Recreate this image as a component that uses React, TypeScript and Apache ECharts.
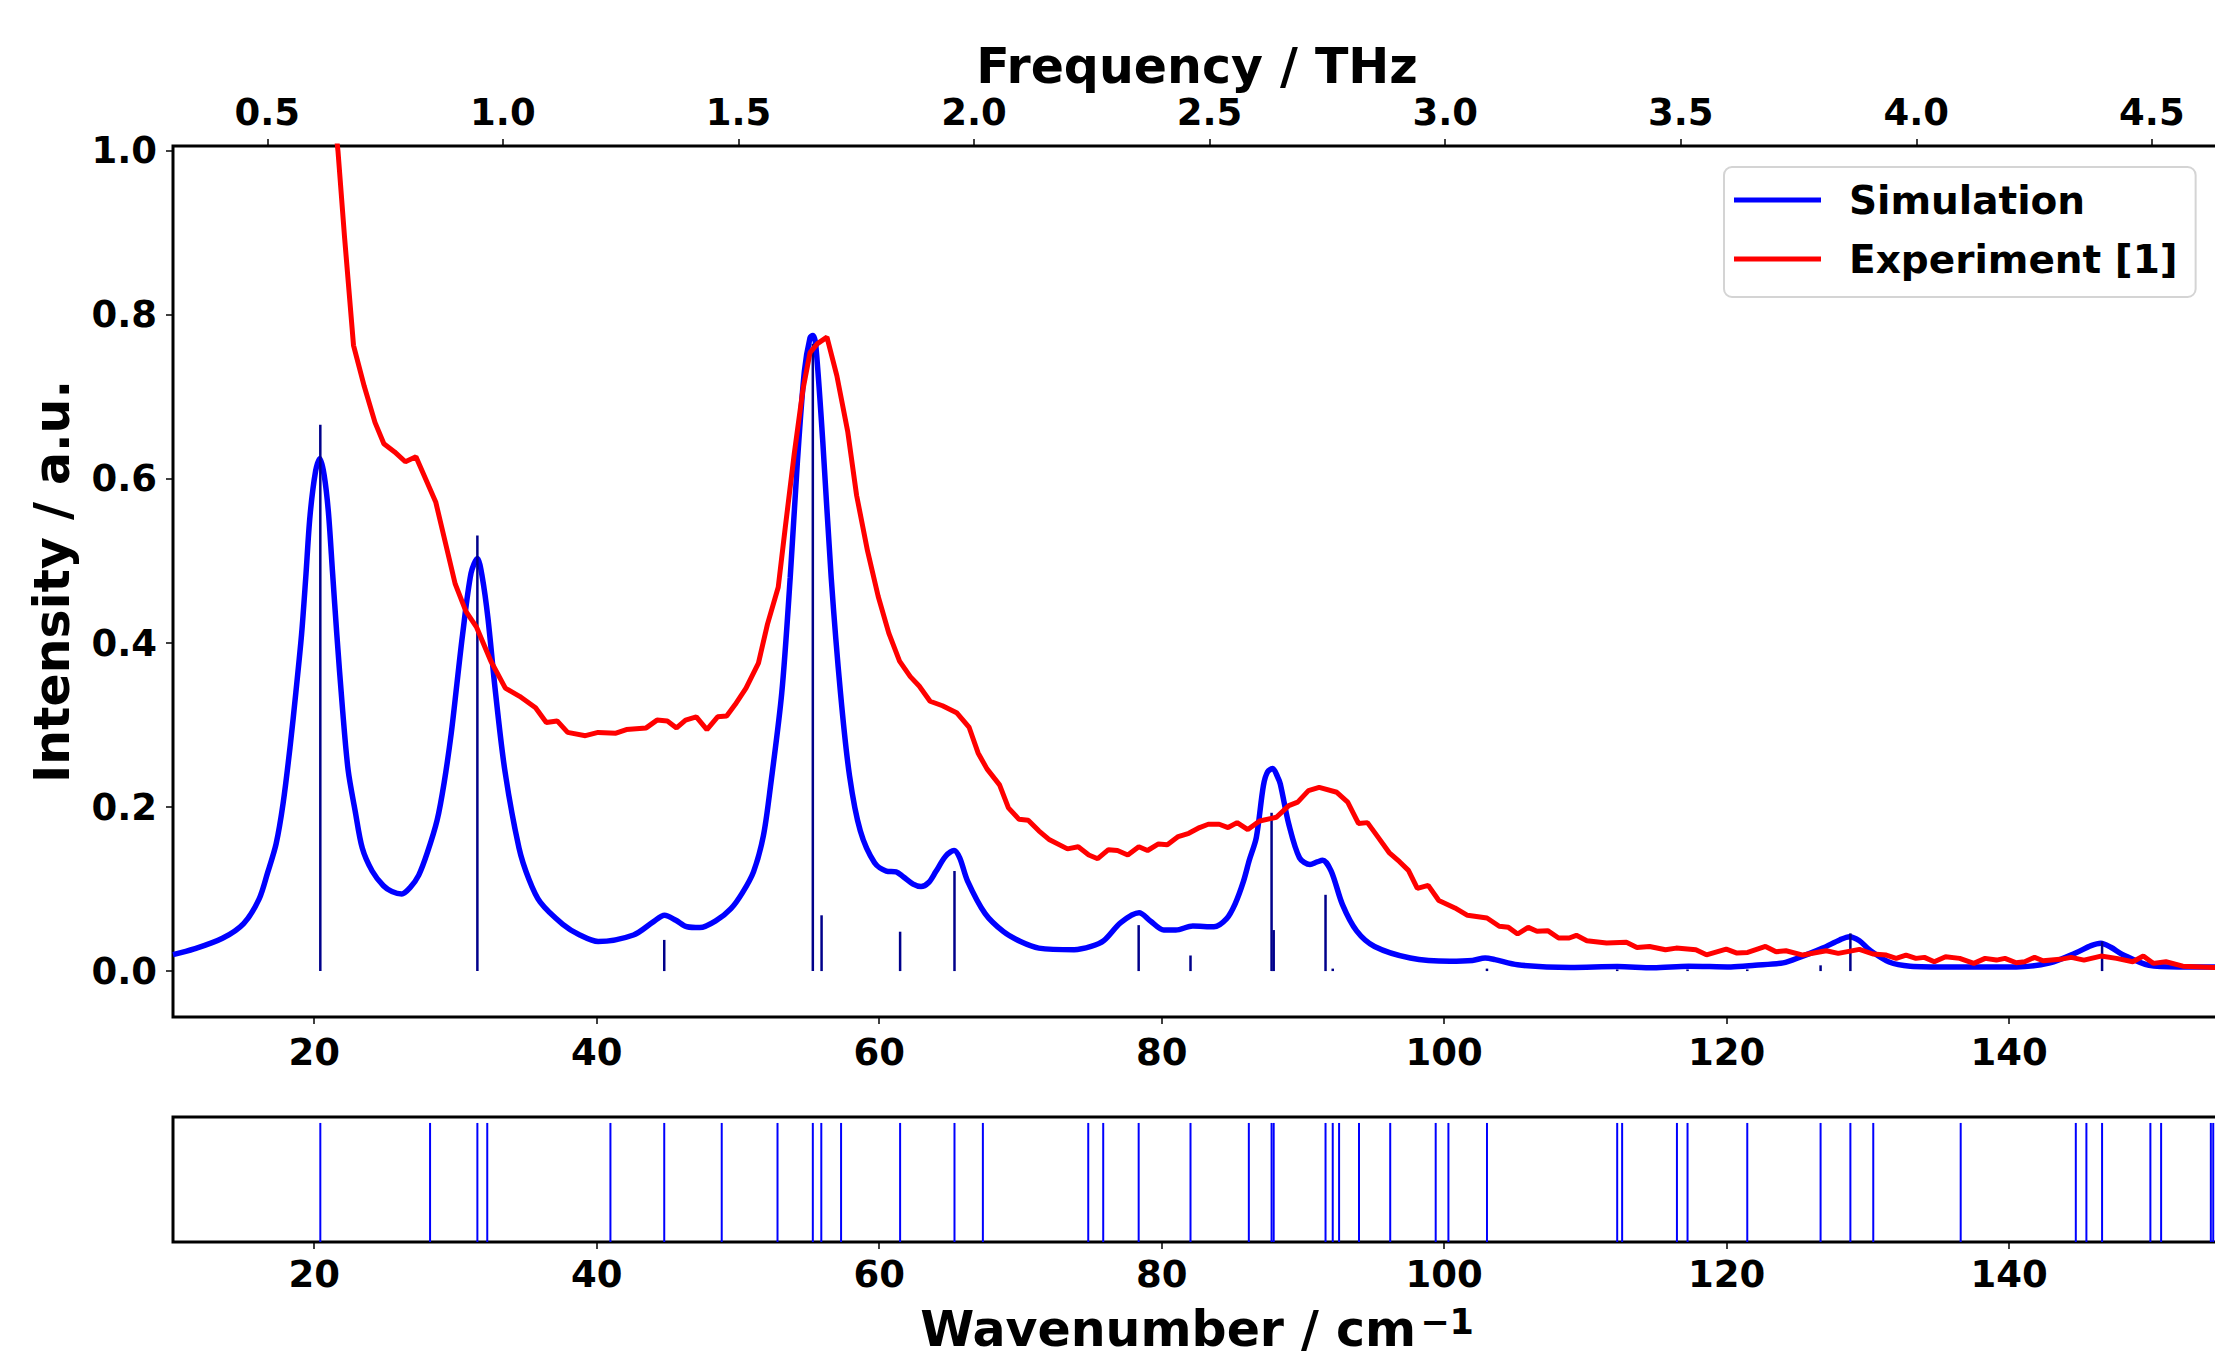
import React, { useEffect, useRef } from "react";
import * as echarts from "echarts";

const THZ_PER_CM = 1 / 33.35641;
const WAVENUMBER_MIN = 10;
const WAVENUMBER_MAX = 155;

const wavenumberTicks = [20, 40, 60, 80, 100, 120, 140];
const frequencyTicks = [0.5, 1.0, 1.5, 2.0, 2.5, 3.0, 3.5, 4.0, 4.5];
const intensityTicks = [0.0, 0.2, 0.4, 0.6, 0.8, 1.0];

const simulationWavenumber = [
  10.0, 11.5, 13.5, 15.0, 16.1, 16.7, 17.3, 17.8, 18.3, 18.7, 19.1, 19.4, 19.7, 20.1, 20.4, 20.7, 21.0, 21.3,
  21.6, 22.0, 22.4, 22.9, 23.4, 24.1, 24.9, 25.5, 26.2, 26.8, 27.4, 28.0, 28.7, 29.2, 29.7, 30.1, 30.5, 31.1,
  31.55, 31.9, 32.3, 32.8, 33.5, 34.5, 35.2, 36.0, 37.6, 38.8, 40.1, 42.6, 44.0, 44.8, 45.6, 46.4, 47.3, 48.5,
  49.5, 50.3, 51.1, 51.8, 52.3, 53.1, 53.7, 54.2, 54.7, 55.1, 55.3, 55.5, 56.0, 56.6, 57.26, 57.9, 58.66,
  59.67, 60.5, 61.2, 61.7, 62.4, 62.96, 63.5, 64.0, 64.7, 65.3, 65.7, 66.25, 67.5, 68.8, 70.0, 71.3, 73.8,
  75.0, 75.9, 77.1, 78.4, 79.2, 80.15, 81.0, 82.2, 83.7, 84.6, 85.2, 85.8, 86.2, 86.7, 87.2, 87.5, 87.86,
  88.2, 88.4, 89.0, 89.76, 90.5, 91.0, 91.4, 92.0, 92.8, 93.8, 95.07, 97.6, 100.4, 102.0, 102.9, 103.6,
  105.2, 108.95, 112.27, 114.8, 117.3, 120.3, 122.0, 124.0, 125.2, 126.8, 128.0, 128.7, 129.4, 130.1, 131.5,
  133.0, 135.8, 140.5, 142.9, 144.7, 145.8, 146.5, 147.2, 148.05, 149.9, 152.0, 155.0,
];
const simulationIntensity = [
  0.020, 0.027, 0.040, 0.058, 0.088, 0.120, 0.155, 0.205, 0.275, 0.34, 0.41, 0.48, 0.555, 0.61, 0.625, 0.605,
  0.56, 0.485, 0.41, 0.32, 0.245, 0.195, 0.150, 0.122, 0.104, 0.097, 0.094, 0.102, 0.117, 0.144, 0.184, 0.23,
  0.29, 0.35, 0.41, 0.485, 0.503, 0.48, 0.43, 0.345, 0.244, 0.150, 0.112, 0.084, 0.057, 0.044, 0.036, 0.044,
  0.060, 0.068, 0.062, 0.054, 0.053, 0.062, 0.076, 0.095, 0.121, 0.165, 0.225, 0.339, 0.48, 0.619, 0.731,
  0.772, 0.775, 0.765, 0.647, 0.48, 0.339, 0.238, 0.171, 0.132, 0.122, 0.121, 0.115, 0.106, 0.103, 0.108,
  0.121, 0.140, 0.147, 0.138, 0.110, 0.070, 0.048, 0.036, 0.028, 0.026, 0.030, 0.037, 0.059, 0.071, 0.061,
  0.050, 0.050, 0.055, 0.054, 0.064, 0.082, 0.11, 0.135, 0.163, 0.226, 0.243, 0.247, 0.237, 0.228, 0.179,
  0.138, 0.130, 0.133, 0.135, 0.122, 0.081, 0.049, 0.030, 0.016, 0.012, 0.013, 0.016, 0.014, 0.0076, 0.0045,
  0.0055, 0.004, 0.006, 0.005, 0.007, 0.010, 0.017, 0.028, 0.038, 0.042, 0.037, 0.026, 0.011, 0.006, 0.005,
  0.005, 0.010, 0.022, 0.031, 0.034, 0.029, 0.020, 0.007, 0.005, 0.005,
];

const experimentWavenumber = [
  21.5, 21.68, 22.15, 22.78, 23.54, 24.3, 24.93, 25.69, 26.45, 27.2, 28.6, 29.98, 30.74, 31.5, 32.5, 33.53,
  34.54, 35.67, 36.43, 37.2, 37.94, 39.2, 40.1, 41.36, 42.1, 43.5, 44.27, 45.0, 45.65, 46.29, 47.05, 47.8,
  48.56, 49.2, 49.8, 50.57, 51.45, 52.09, 52.85, 53.35, 53.98, 54.6, 55.1, 55.63, 56.3, 57.0, 57.77, 58.4,
  59.17, 59.93, 60.68, 61.44, 62.2, 62.83, 63.6, 64.48, 65.48, 66.37, 67.0, 67.63, 68.52, 69.15, 69.9, 70.55,
  71.3, 72.06, 73.33, 74.09, 74.84, 75.47, 76.23, 76.87, 77.6, 78.38, 79.0, 79.77, 80.4, 81.17, 81.92, 82.68,
  83.3, 84.07, 84.7, 85.34, 86.1, 86.93, 88.12, 89.0, 89.63, 90.39, 91.15, 92.4, 93.17, 93.93, 94.57, 95.33,
  96.1, 96.84, 97.47, 98.1, 98.87, 99.62, 100.76, 101.65, 103.03, 103.9, 104.55, 105.2, 105.95, 106.57,
  107.33, 108.1, 108.85, 109.36, 110.1, 111.5, 112.9, 113.65, 114.54, 115.67, 116.43, 117.82, 118.57, 119.97,
  120.73, 121.49, 122.75, 123.5, 124.2, 125.4, 127.05, 127.9, 129.4, 130.35, 131.3, 132.0, 132.7, 133.4,
  134.0, 134.7, 135.5, 136.5, 137.5, 138.3, 139.1, 139.7, 140.5, 141.1, 141.8, 142.4, 143.6, 144.4, 145.3,
  146.5, 147.6, 148.75, 149.5, 150.2, 151.1, 152.3, 154.5, 155.0,
];
const experimentIntensity = [
  1.03, 1.0, 0.894, 0.763, 0.713, 0.669, 0.643, 0.633, 0.621, 0.627, 0.572, 0.472, 0.4385, 0.419, 0.378, 0.345,
  0.335, 0.321, 0.303, 0.305, 0.291, 0.287, 0.291, 0.290, 0.2945, 0.2965, 0.306, 0.305, 0.2965, 0.306, 0.310,
  0.2945, 0.310, 0.311, 0.325, 0.345, 0.3755, 0.423, 0.468, 0.541, 0.630, 0.709, 0.754, 0.765, 0.773, 0.726,
  0.658, 0.58, 0.5126, 0.4567, 0.412, 0.378, 0.359, 0.3475, 0.329, 0.3235, 0.315, 0.297, 0.266, 0.2465, 0.227,
  0.199, 0.185, 0.184, 0.171, 0.16, 0.149, 0.1515, 0.1415, 0.137, 0.148, 0.147, 0.1415, 0.1515, 0.147, 0.155,
  0.154, 0.164, 0.168, 0.175, 0.179, 0.179, 0.175, 0.181, 0.1725, 0.183, 0.1875, 0.2018, 0.206, 0.220, 0.224,
  0.218, 0.206, 0.180, 0.181, 0.163, 0.1445, 0.1334, 0.1228, 0.1008, 0.1045, 0.086, 0.077, 0.068, 0.0647,
  0.0546, 0.0533, 0.0452, 0.0533, 0.0485, 0.0493, 0.0403, 0.0403, 0.0436, 0.037, 0.0342, 0.035, 0.0288, 0.030,
  0.026, 0.028, 0.026, 0.0198, 0.0268, 0.022, 0.0227, 0.0300, 0.0235, 0.0248, 0.0195, 0.0248, 0.0216, 0.0265,
  0.0208, 0.0195, 0.0155, 0.0195, 0.0155, 0.0167, 0.0114, 0.0175, 0.0155, 0.0094, 0.0155, 0.0134, 0.0155,
  0.0101, 0.0114, 0.0167, 0.0126, 0.0143, 0.0167, 0.0134, 0.0183, 0.0155, 0.0114, 0.0183, 0.0094, 0.0114,
  0.006, 0.0045, 0.004,
];

const stickWavenumber = [
  20.43, 31.55, 44.78, 55.3, 55.92, 61.48, 65.33, 78.37, 82.04, 87.78, 87.93, 91.6, 92.11, 103.03, 112.25,
  117.23, 121.46, 126.65, 128.76, 146.58,
];
const stickIntensity = [
  0.666, 0.531, 0.038, 0.765, 0.068, 0.048, 0.122, 0.056, 0.019, 0.193, 0.050, 0.093, 0.003, 0.003, 0.002,
  0.002, 0.002, 0.007, 0.046, 0.036,
];

const allModeWavenumber = [
  20.43, 28.2, 31.55, 32.25, 40.97, 44.78, 48.85, 52.8, 55.3, 55.9, 57.3, 61.48, 65.33, 67.34, 74.8, 75.86,
  78.37, 82.04, 86.17, 87.78, 87.93, 91.6, 92.11, 92.56, 93.97, 96.18, 99.4, 100.3, 103.03, 112.25, 112.6,
  116.48, 117.23, 121.46, 126.65, 128.76, 130.38, 136.57, 144.72, 145.47, 146.58, 150.0, 150.76, 154.28, 154.45,
];

const FONT = "'DejaVu Sans', 'Liberation Sans', sans-serif";

const tickLabel = (size: number) => ({
  fontFamily: FONT,
  fontWeight: "bold" as const,
  fontSize: size,
  color: "#000",
});

export default function App() {
  const ref = useRef<HTMLDivElement>(null);

  useEffect(() => {
    if (!ref.current) return;
    const chart = echarts.init(ref.current, undefined, { renderer: "svg" });

    const sim = simulationWavenumber.map((x, i) => [x, simulationIntensity[i]]);
    const exp = experimentWavenumber.map((x, i) => [x, experimentIntensity[i]]);
    const sticks = stickWavenumber.map((x, i) => [x, stickIntensity[i]]);
    const modes = allModeWavenumber.map((x) => [x, 1]);

    const stickRenderer = (color: string, width: number) => (params: any, api: any) => {
      const x = api.value(0);
      const h = api.value(1);
      const p0 = api.coord([x, 0]);
      const p1 = api.coord([x, h]);
      return {
        type: "line",
        shape: { x1: p0[0], y1: p0[1], x2: p1[0], y2: p1[1] },
        style: { stroke: color, lineWidth: width },
      };
    };

    const tick = { show: true, inside: false, length: 7, lineStyle: { color: "#000", width: 1.5 } };

    chart.setOption({
      animation: false,
      backgroundColor: "#fff",
      grid: [
        { left: 173, top: 146, width: 2048, height: 871, show: true, borderColor: "#000", borderWidth: 3, backgroundColor: "transparent", containLabel: false, outerBoundsMode: "none" },
        { left: 173, top: 1117, width: 2048, height: 125, show: true, borderColor: "#000", borderWidth: 3, backgroundColor: "transparent", containLabel: false, outerBoundsMode: "none" },
      ],
      legend: {
        data: ["Simulation", "Experiment [1]"],
        orient: "vertical",
        left: 1724,
        top: 167,
        icon: "rect",
        itemWidth: 87,
        itemHeight: 5,
        itemGap: 19,
        padding: [13, 18, 18, 10],
        backgroundColor: "#fff",
        borderColor: "#d4d4d4",
        borderWidth: 2,
        borderRadius: 8,
        textStyle: { ...tickLabel(39), lineHeight: 40, padding: [0, 0, 0, 23] },
      },
      xAxis: [
        {
          gridIndex: 0,
          type: "value",
          position: "bottom",
          min: WAVENUMBER_MIN,
          max: WAVENUMBER_MAX,
          axisLine: { show: false, onZero: false },
          axisTick: { ...tick, customValues: wavenumberTicks },
          axisLabel: { ...tickLabel(37), margin: 17, customValues: wavenumberTicks, formatter: (v: number) => String(v) },
          splitLine: { show: false },
        },
        {
          gridIndex: 0,
          type: "value",
          position: "top",
          min: WAVENUMBER_MIN * THZ_PER_CM,
          max: WAVENUMBER_MAX * THZ_PER_CM,
          axisLine: { show: false, onZero: false },
          axisTick: { ...tick, customValues: frequencyTicks },
          axisLabel: { ...tickLabel(37), margin: 15, customValues: frequencyTicks, formatter: (v: number) => v.toFixed(1) },
          splitLine: { show: false },
          name: "Frequency / THz",
          nameLocation: "middle",
          nameGap: 55,
          nameMoveOverlap: false,
          nameTextStyle: tickLabel(49),
        },
        {
          gridIndex: 1,
          type: "value",
          position: "bottom",
          min: WAVENUMBER_MIN,
          max: WAVENUMBER_MAX,
          axisLine: { show: false, onZero: false },
          axisTick: { ...tick, customValues: wavenumberTicks },
          axisLabel: { ...tickLabel(37), margin: 14, customValues: wavenumberTicks, formatter: (v: number) => String(v) },
          splitLine: { show: false },
          name: "{a|Wavenumber / cm}{s|\u22121}",
          nameLocation: "middle",
          nameGap: 62,
          nameMoveOverlap: false,
          nameTextStyle: {
            ...tickLabel(49),
            rich: {
              a: { ...tickLabel(49), lineHeight: 50, verticalAlign: "bottom" },
              s: { ...tickLabel(35), lineHeight: 44, verticalAlign: "top", padding: [0, 0, 0, 4] },
            },
          },
        },
      ],
      yAxis: [
        {
          gridIndex: 0,
          type: "value",
          min: -0.056,
          max: 1.006,
          axisLine: { show: false, onZero: false },
          axisTick: { ...tick, customValues: intensityTicks },
          axisLabel: { ...tickLabel(37), margin: 16, customValues: intensityTicks, formatter: (v: number) => v.toFixed(1) },
          splitLine: { show: false },
          name: "Intensity / a.u.",
          nameLocation: "middle",
          nameGap: 96,
          nameRotate: 90,
          nameTextStyle: tickLabel(49),
        },
        {
          gridIndex: 1,
          type: "value",
          min: 0,
          max: 1.05,
          show: false,
        },
      ],
      series: [
        {
          name: "Simulation",
          type: "line",
          xAxisIndex: 0,
          yAxisIndex: 0,
          data: sim,
          showSymbol: false,
          smooth: 0.3,
          color: "#0000ff",
          lineStyle: { color: "#0000ff", width: 5.5 },
          clip: true,
          z: 2,
        },
        {
          name: "Simulation sticks",
          type: "custom",
          xAxisIndex: 0,
          yAxisIndex: 0,
          data: sticks,
          renderItem: stickRenderer("#00008b", 2.5),
          clip: true,
          silent: true,
          z: 3,
        },
        {
          name: "Experiment [1]",
          type: "line",
          xAxisIndex: 0,
          yAxisIndex: 0,
          data: exp,
          showSymbol: false,
          color: "#ff0000",
          lineStyle: { color: "#ff0000", width: 5 },
          clip: true,
          z: 4,
        },
        {
          name: "Modes",
          type: "custom",
          xAxisIndex: 2,
          yAxisIndex: 1,
          data: modes,
          renderItem: stickRenderer("#0000ff", 2),
          clip: true,
          silent: true,
          z: 2,
        },
      ],
    });

    return () => chart.dispose();
  }, []);

  return (
    <div style={{ position: "fixed", left: 0, top: 0, width: 2215, height: 1358, overflow: "hidden", background: "#fff" }}>
      <div ref={ref} style={{ width: 2240, height: 1358 }} />
    </div>
  );
}
